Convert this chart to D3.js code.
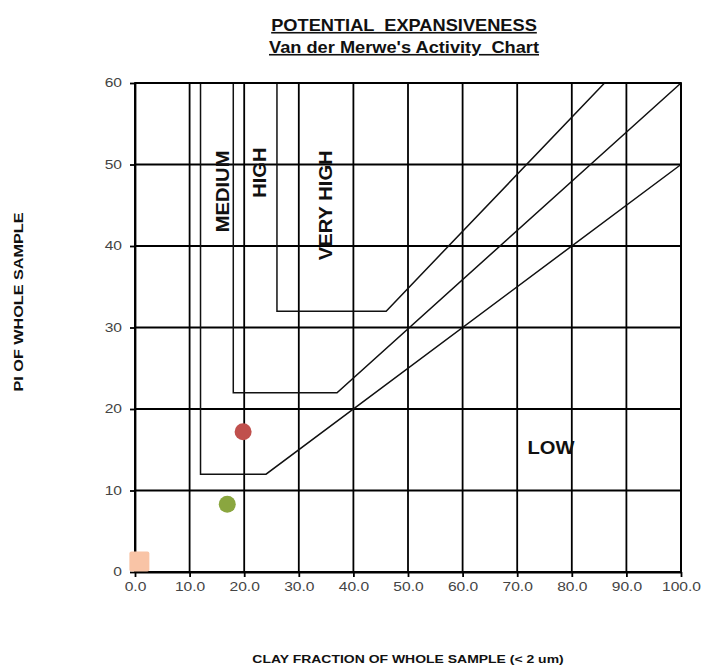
<!DOCTYPE html>
<html>
  <head>
    <meta charset="utf-8">
    <title>Potential expansiveness</title>
    <script src="https://cdn.jsdelivr.net/npm/d3@7"></script>
    <style>
      body { margin: 0; background: #fff; }
      text { font-family: "Liberation Sans", Arial, sans-serif; }
      .tick text { fill: #444; font-size: 12px; }
    </style>
  </head>
  <body>
    <svg id="chart" width="706" height="666"></svg>

    <script>
      // data
      xTicks = [0, 10, 20, 30, 40, 50, 60, 70, 80, 90, 100];
      yTicks = [0, 10, 20, 30, 40, 50, 60];
      // zone boundaries: [clay %, PI]
      mediumLine = [[12, 60], [12, 12], [24, 12], [100, 50]];
      highLine = [[18, 60], [18, 22], [37, 22], [100, 60]];
      veryHighLine = [[26, 60], [26, 32], [46, 32], [86, 60]];
      samples = [
        { clay: 19.8, pi: 17.2, colour: "#c0504d", shape: "circle" },
        { clay: 16.9, pi: 8.3, colour: "#8aa63f", shape: "circle" },
        { clay: 0.8, pi: 1.3, colour: "#f9c4a6", shape: "square" }
      ];
      zoneLabels = [
        { text: "MEDIUM", clay: 16.1, pi: 46.7, rotate: true },
        { text: "HIGH", clay: 22.9, pi: 49.0, rotate: true },
        { text: "VERY HIGH", clay: 35.0, pi: 45.0, rotate: true },
        { text: "LOW", clay: 76.2, pi: 15.2, rotate: false }
      ];

      svg = d3.select("#chart");
      margin = { left: 135, right: 25, top: 83, bottom: 94 };
      width = 706 - margin.left - margin.right;
      height = 666 - margin.top - margin.bottom;
      stretch = 1.3; // the source text is drawn wide

      x = d3.scaleLinear().domain([0, 100]).range([0, width]);
      y = d3.scaleLinear().domain([0, 60]).range([height, 0]);

      plot = svg.append("g")
        .attr("transform", "translate(" + margin.left + "," + margin.top + ")");

      // grid
      plot.append("g")
        .selectAll("line")
        .data(xTicks)
        .join("line")
          .attr("x1", d => x(d)).attr("x2", d => x(d))
          .attr("y1", 0).attr("y2", height)
          .attr("stroke", "#000")
          .attr("stroke-width", 1.8);
      plot.append("g")
        .selectAll("line")
        .data(yTicks)
        .join("line")
          .attr("x1", 0).attr("x2", width)
          .attr("y1", d => y(d)).attr("y2", d => y(d))
          .attr("stroke", "#000")
          .attr("stroke-width", 1.8);

      // axes
      xAxis = d3.axisBottom(x)
        .tickValues(xTicks)
        .tickFormat(d3.format(".1f"))
        .tickSize(5)
        .tickSizeOuter(0)
        .tickPadding(5);
      plot.append("g")
        .attr("transform", "translate(0," + height + ")")
        .call(xAxis)
        .call(g => g.select(".domain").attr("stroke-width", 1.8))
        .call(g => g.selectAll(".tick line").attr("stroke-width", 1.8))
        .call(g => g.selectAll(".tick text").attr("transform", "scale(" + stretch + ",1)"));

      yAxis = d3.axisLeft(y)
        .tickValues(yTicks)
        .tickSize(5)
        .tickSizeOuter(0)
        .tickPadding(5);
      plot.append("g")
        .call(yAxis)
        .call(g => g.select(".domain").attr("stroke-width", 1.8))
        .call(g => g.selectAll(".tick line").attr("stroke-width", 1.8))
        .call(g => g.selectAll(".tick text")
          .attr("x", -13 / stretch)
          .attr("transform", "scale(" + stretch + ",1)"));

      // zone boundaries
      line = d3.line().x(d => x(d[0])).y(d => y(d[1]));
      [mediumLine, highLine, veryHighLine].forEach(function(d) {
        plot.append("path")
          .attr("d", line(d))
          .attr("fill", "none")
          .attr("stroke", "#111")
          .attr("stroke-width", 1.5);
      });

      // frame
      plot.append("rect")
        .attr("width", width).attr("height", height)
        .attr("fill", "none")
        .attr("stroke", "#000")
        .attr("stroke-width", 1.8);

      // zone labels
      zoneLabels.forEach(function(d) {
        plot.append("text")
          .attr("transform", "translate(" + x(d.clay) + "," + y(d.pi) + ")" + (d.rotate ? " rotate(-90)" : "") + " scale(1.12,1)")
          .attr("text-anchor", "middle")
          .attr("dominant-baseline", "central")
          .attr("font-size", 18)
          .attr("font-weight", "bold")
          .attr("fill", "#111")
          .text(d.text);
      });

      // samples
      plot.selectAll("circle.sample")
        .data(samples.filter(d => d.shape === "circle"))
        .join("circle")
          .attr("class", "sample")
          .attr("cx", d => x(d.clay))
          .attr("cy", d => y(d.pi))
          .attr("r", 8.5)
          .attr("fill", d => d.colour);
      plot.selectAll("rect.sample")
        .data(samples.filter(d => d.shape === "square"))
        .join("rect")
          .attr("class", "sample")
          .attr("x", d => x(d.clay) - 10)
          .attr("y", d => y(d.pi) - 10)
          .attr("width", 20)
          .attr("height", 20)
          .attr("rx", 2)
          .attr("fill", d => d.colour);

      // titles
      titles = ["POTENTIAL  EXPANSIVENESS", "Van der Merwe's Activity  Chart"];
      svg.selectAll("text.title")
        .data(titles)
        .join("text")
          .attr("class", "title")
          .attr("transform", (d, i) => "translate(404," + (31 + i * 22) + ") scale(1.14,1)")
          .attr("text-anchor", "middle")
          .attr("font-size", 16)
          .attr("font-weight", "bold")
          .attr("text-decoration", "underline")
          .attr("fill", "#111")
          .style("white-space", "pre")
          .text(d => d);

      svg.append("text")
        .attr("transform", "translate(23,302) rotate(-90) scale(1.35,1)")
        .attr("text-anchor", "middle")
        .attr("font-size", 12)
        .attr("font-weight", "bold")
        .attr("fill", "#111")
        .text("PI OF WHOLE SAMPLE");

      svg.append("text")
        .attr("transform", "translate(408,663) scale(1.27,1)")
        .attr("text-anchor", "middle")
        .attr("font-size", 11)
        .attr("font-weight", "bold")
        .attr("fill", "#111")
        .text("CLAY FRACTION OF WHOLE SAMPLE (< 2 um)");
    </script>
  </body>
</html>
